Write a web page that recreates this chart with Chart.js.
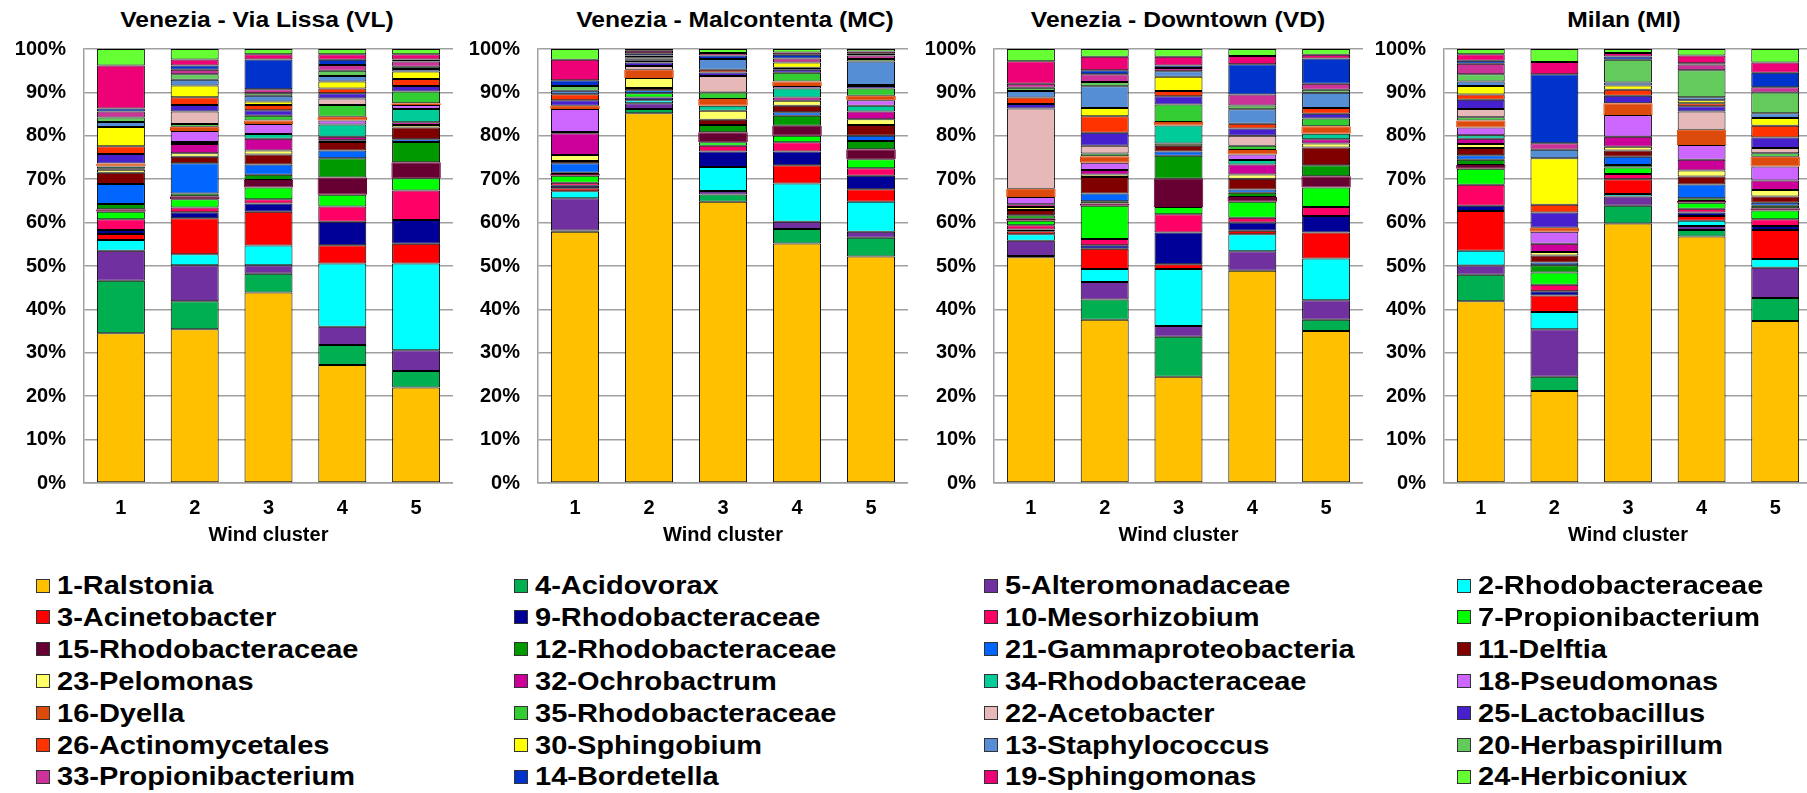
<!DOCTYPE html>
<html>
<head>
<meta charset="utf-8">
<script src="https://cdn.jsdelivr.net/npm/chart.js@4.4.1/dist/chart.umd.min.js"></script>
<style>
  html, body { margin: 0; padding: 0; background: #fff; overflow: hidden; }
  body { width: 1807px; height: 793px; position: relative; font-family: "Liberation Sans", Arial, sans-serif; }
  canvas.panel { position: absolute; top: 0; }
  .title { position: absolute; top: 9px; font-weight: bold; font-size: 22px; line-height: 22px;
           white-space: nowrap; color: #000; transform: translateX(-50%) scaleX(1.12); }
  .legend-item { position: absolute; height: 25px; display: flex; align-items: center; white-space: nowrap; }
  .swatch { width: 12px; height: 12px; border: 1.5px solid #333; flex: none; }
  .legend-text { margin-left: 7px; font-weight: bold; font-size: 25px; line-height: 25px; color: #000;
                 transform: scaleX(1.16); transform-origin: left center; }
</style>
</head>
<body>
<div class="title" style="left:257px">Venezia - Via Lissa (VL)</div>
<div class="title" style="left:735px">Venezia - Malcontenta (MC)</div>
<div class="title" style="left:1178px">Venezia - Downtown (VD)</div>
<div class="title" style="left:1624px">Milan (MI)</div>

<canvas id="chartVL" class="panel" width="453" height="560" style="left:0px"></canvas>
<canvas id="chartMC" class="panel" width="454" height="560" style="left:454px"></canvas>
<canvas id="chartVD" class="panel" width="453" height="560" style="left:910px"></canvas>
<canvas id="chartMI" class="panel" width="452" height="560" style="left:1360px"></canvas>

<div id="legend"></div>

<script>
// Wind clusters on the x axis
const clusters = ['1', '2', '3', '4', '5'];

// Taxa, in stacking order (bottom to top)
const taxa = [
  '1-Ralstonia', '4-Acidovorax', '5-Alteromonadaceae', '2-Rhodobacteraceae',
  '3-Acinetobacter', '9-Rhodobacteraceae', '10-Mesorhizobium', '7-Propionibacterium',
  '15-Rhodobacteraceae', '12-Rhodobacteraceae', '21-Gammaproteobacteria', '11-Delftia',
  '23-Pelomonas', '32-Ochrobactrum', '34-Rhodobacteraceae', '18-Pseudomonas',
  '16-Dyella', '35-Rhodobacteraceae', '22-Acetobacter', '25-Lactobacillus',
  '26-Actinomycetales', '30-Sphingobium', '13-Staphylococcus', '20-Herbaspirillum',
  '33-Propionibacterium', '14-Bordetella', '19-Sphingomonas', '24-Herbiconiux'
];

const taxonColors = [
  '#FFC000', '#00B050', '#7030A0', '#00FFFF',
  '#FF0000', '#000099', '#FF0066', '#00FF00',
  '#660033', '#009900', '#0066FF', '#800000',
  '#FFFF66', '#CC0099', '#00CC99', '#CC66FF',
  '#DC4A0C', '#33CC33', '#E6B9B8', '#4620CC',
  '#FF3300', '#FFFF00', '#558ED5', '#62CB5C',
  '#CC3399', '#0033CC', '#EE0077', '#66FF33'
];

// Relative abundance (%) per wind cluster; each row follows the order of `taxa`
const siteVL = [
  [34.5, 12.1, 6.9, 2.5, 1.4, 0.9, 2.5, 1.7, 0.6, 1.2, 4.6, 2.6, 0.7, 0.2, 0.5, 0, 0.7, 0, 0, 2.2, 1.8, 4.4, 1.2, 1.0, 1.4, 0.7, 9.9, 3.8],
  [35.4, 6.5, 8.3, 2.5, 8.3, 1.4, 1.1, 1.9, 0.7, 0.6, 7.0, 1.5, 0.8, 2.1, 0.5, 2.5, 1.0, 0.6, 2.9, 1.5, 1.8, 2.7, 1.3, 1.3, 1.0, 1.0, 1.4, 2.4],
  [43.9, 4.3, 2.0, 4.5, 7.8, 1.9, 1.0, 2.7, 1.7, 1.2, 2.4, 2.3, 0.9, 2.7, 1.1, 2.3, 0.8, 1.1, 0, 1.3, 1.2, 0.8, 1.3, 0.6, 0.9, 6.9, 1.2, 1.2],
  [27.2, 4.6, 4.2, 14.6, 4.2, 5.4, 3.5, 2.7, 4.0, 4.4, 1.8, 2.0, 0.4, 0.8, 2.8, 0.9, 0.9, 2.7, 1.5, 1.2, 1.1, 1.6, 1.3, 1.2, 1.3, 1.2, 1.3, 1.2],
  [22.0, 3.8, 4.8, 20.0, 4.5, 5.5, 6.8, 2.8, 3.7, 4.7, 0.6, 2.7, 0.6, 0.6, 3.1, 0.9, 0.4, 2.7, 0, 1.3, 1.6, 1.7, 0.6, 0.5, 1.2, 0.5, 1.2, 1.2]
];

const siteMC = [
  [57.9, 0.3, 7.4, 1.6, 0.7, 0.6, 0.7, 1.6, 0.4, 0.3, 2.2, 0.5, 1.4, 5.0, 0.3, 5.3, 0.7, 0, 0, 1.3, 1.4, 0, 0.8, 1.1, 0, 1.3, 4.7, 2.5],
  [85.2, 1.0, 1.3, 0.7, 0, 0.6, 0, 1.0, 0, 0, 0.7, 0.5, 2.3, 0, 0, 0, 1.9, 0, 0.9, 0.8, 0.4, 0.2, 0.3, 0.3, 0.4, 0.5, 0.6, 0.4],
  [64.8, 1.7, 0.8, 5.5, 0, 3.6, 1.3, 0.8, 2.3, 1.7, 0, 1.2, 2.1, 0, 1.1, 0, 1.6, 1.5, 3.8, 0.8, 0.6, 0, 2.5, 0, 0, 0.8, 0.6, 0.9],
  [55.2, 3.3, 1.7, 8.8, 4.2, 3.2, 2.1, 1.5, 2.3, 2.3, 0.8, 1.5, 1.2, 0.7, 2.1, 0.6, 1.0, 2.0, 0, 0.7, 0.5, 1.2, 0, 0, 0.9, 0.9, 0.5, 0.8],
  [52.2, 4.3, 1.4, 6.9, 2.9, 3.1, 1.7, 2.1, 2.3, 1.9, 1.2, 2.5, 1.3, 1.8, 1.3, 1.3, 1.0, 1.7, 0, 0.6, 0.2, 0, 5.4, 0.6, 0.8, 0.4, 0.5, 0.6]
];

const siteVD = [
  [52.0, 0.3, 3.5, 1.5, 0.7, 0.4, 1.0, 1.0, 0.5, 0.8, 0, 1.2, 0.7, 0.6, 0, 1.7, 1.9, 0, 18.5, 1.0, 1.5, 0, 1.5, 0.8, 0.9, 0, 5.2, 2.8],
  [37.6, 4.7, 4.0, 3.0, 4.7, 0.8, 1.4, 7.7, 0.5, 0.5, 1.8, 3.8, 0.6, 1.0, 0, 1.7, 1.5, 0.6, 1.8, 3.0, 3.8, 1.9, 5.0, 1.0, 1.8, 0.9, 3.1, 1.8],
  [24.5, 9.2, 2.5, 13.1, 1.1, 7.3, 4.2, 1.7, 6.5, 5.3, 1.0, 1.3, 0.5, 0, 4.2, 0, 0.8, 4.0, 0, 1.9, 1.2, 3.3, 1.3, 0, 0.7, 0.6, 2.0, 1.8],
  [48.9, 0, 4.5, 3.9, 0.8, 1.9, 1.1, 3.7, 1.1, 1.0, 0.7, 2.5, 1.0, 2.3, 1.0, 1.3, 1.0, 1.0, 2.3, 1.7, 1.1, 0, 3.3, 0.9, 2.5, 7.0, 1.9, 1.6],
  [35.0, 2.6, 4.5, 9.6, 6.0, 3.8, 2.1, 4.5, 2.6, 2.5, 0, 4.1, 0.9, 1.0, 1.3, 0, 1.7, 1.8, 0, 1.1, 1.3, 0, 3.5, 0.7, 1.4, 5.8, 0.9, 1.3]
];

const siteMI = [
  [41.9, 6.1, 2.1, 3.4, 9.2, 1.2, 4.8, 3.7, 0.9, 1.2, 1.0, 1.7, 0.9, 1.2, 0.8, 1.8, 1.6, 0.8, 1.9, 2.1, 1.2, 2.0, 1.0, 1.7, 2.4, 0.7, 1.5, 1.2],
  [21.2, 3.3, 10.9, 4.0, 3.8, 1.0, 1.5, 2.8, 0, 1.7, 0.6, 1.6, 0.8, 1.9, 0, 2.8, 0.9, 0, 0, 3.5, 1.8, 10.7, 2.0, 0, 1.5, 15.9, 2.8, 3.0],
  [59.8, 4.1, 2.1, 0.6, 3.4, 0, 1.2, 1.5, 0, 0.6, 1.9, 1.4, 0.9, 2.3, 0, 5.0, 2.7, 0, 0, 1.7, 1.4, 1.0, 0.7, 5.2, 0, 0.8, 0.8, 0.9],
  [56.8, 1.5, 0.9, 1.2, 1.1, 0.8, 0.9, 1.4, 0.4, 0.6, 3.2, 1.8, 1.4, 2.5, 0, 3.4, 3.5, 0, 4.2, 1.2, 0.7, 0.7, 0.7, 6.2, 1.3, 0.3, 1.8, 1.5],
  [37.3, 5.3, 7.0, 2.0, 6.7, 0.9, 1.6, 2.0, 0.5, 0.6, 0.7, 1.4, 1.5, 2.2, 0, 3.2, 2.3, 0.8, 1.2, 2.4, 2.7, 1.8, 1.1, 4.8, 1.2, 3.3, 2.4, 3.1]
];

// y-axis tick values
const percentTicks = [0, 10, 20, 30, 40, 50, 60, 70, 80, 90, 100];

const FONT = "'Liberation Sans', Arial, sans-serif";
const GRID = '#a0a0a0';
// these two taxa are drawn as slightly wider bands without an outline
const softBands = new Set(['16-Dyella', '15-Rhodobacteraceae']);

function makePanel(canvasId, site) {
  const datasets = taxa.map((name, k) => ({
    label: name,
    data: site.map(col => col[k]),
    backgroundColor: taxonColors[k],
    borderColor: softBands.has(name) ? taxonColors[k] : '#000',
    borderWidth: 1,
    borderSkipped: false,
    barPercentage: softBands.has(name) ? 0.67 : 0.65,
    categoryPercentage: 1
  }));

  new Chart(document.getElementById(canvasId), {
    type: 'bar',
    data: { labels: clusters, datasets },
    options: {
      responsive: false,
      animation: false,
      layout: { padding: { top: 49, right: 0, bottom: 0, left: 0 } },
      plugins: {
        legend: { display: false },
        tooltip: { enabled: false },
        title: { display: false }
      },
      scales: {
        x: {
          stacked: true,
          grid: { display: false, drawTicks: false },
          border: { display: true, color: GRID, width: 1.5 },
          ticks: { color: '#000', font: { family: FONT, size: 20, weight: 'bold' }, padding: 13 },
          title: {
            display: true, text: 'Wind cluster', color: '#000',
            font: { family: FONT, size: 20, weight: 'bold' },
            padding: { top: 0, bottom: 13 }
          },
          afterFit(scale) { scale.height = 77; }
        },
        y: {
          stacked: true,
          min: percentTicks[0],
          max: percentTicks[percentTicks.length - 1],
          afterBuildTicks(scale) { scale.ticks = percentTicks.map(v => ({ value: v })); },
          ticks: {
            color: '#000', padding: 18,
            font: { family: FONT, size: 20, weight: 'bold' },
            callback: v => v + '%'
          },
          grid: { color: GRID, lineWidth: 1.5, drawTicks: false },
          border: { display: true, color: GRID, width: 1.5 },
          afterFit(scale) { scale.width = 84; }
        }
      }
    }
  });
}

makePanel('chartVL', siteVL);
makePanel('chartMC', siteMC);
makePanel('chartVD', siteVD);
makePanel('chartMI', siteMI);

// Legend: 4 columns, filled row by row in stacking order
const legendCols = [36, 514, 984, 1457];
const legendRow0 = 585.5, legendRowStep = 31.9;
const legend = document.getElementById('legend');
taxa.forEach((name, k) => {
  const col = k % 4, row = Math.floor(k / 4);
  const item = document.createElement('div');
  item.className = 'legend-item';
  item.style.left = legendCols[col] + 'px';
  item.style.top = (legendRow0 + row * legendRowStep - 12.5) + 'px';
  const sw = document.createElement('div');
  sw.className = 'swatch';
  sw.style.background = taxonColors[k];
  const tx = document.createElement('span');
  tx.className = 'legend-text';
  tx.textContent = name;
  item.appendChild(sw);
  item.appendChild(tx);
  legend.appendChild(item);
});
</script>
</body>
</html>
